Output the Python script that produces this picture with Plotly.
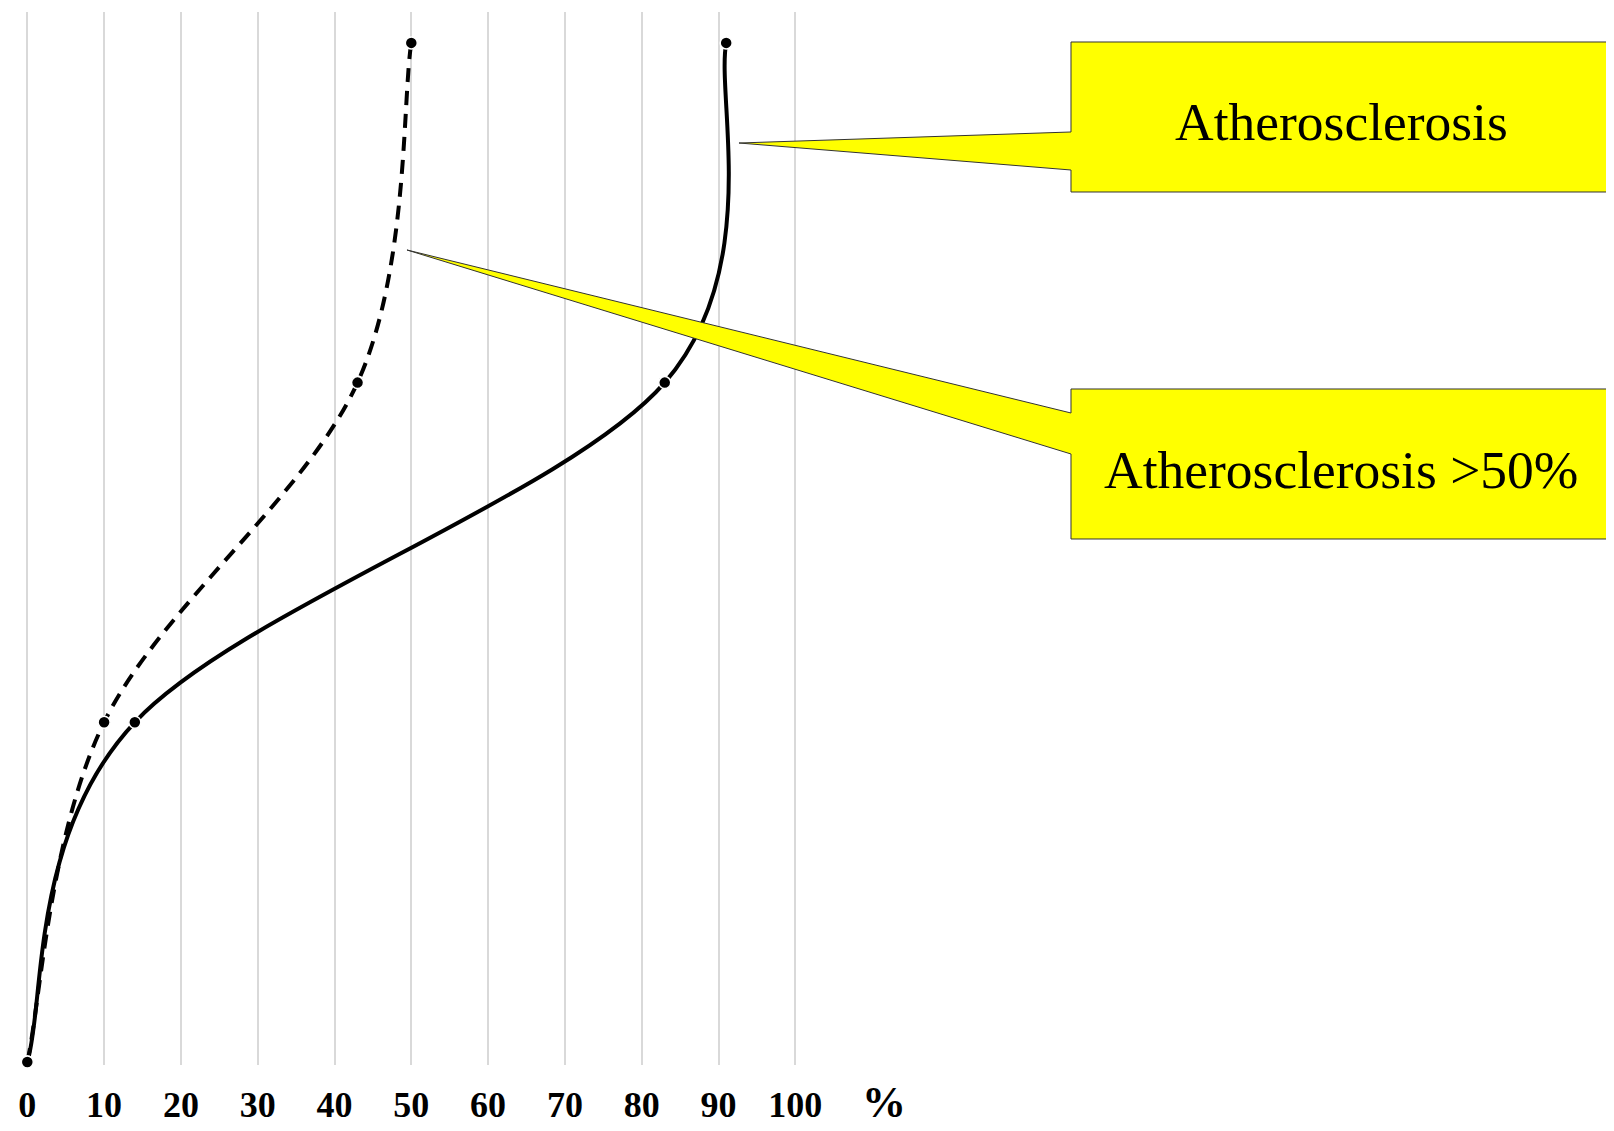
import plotly.graph_objects as go

# ---- data ----
levels = [0, 1, 2, 3]
athero = [0, 14, 83, 91]          # solid line
athero50 = [0, 10, 43, 50]        # dashed line
x_ticks = [0, 10, 20, 30, 40, 50, 60, 70, 80, 90, 100]
x_ticklabels = [str(v) for v in x_ticks]
callout_labels = ["Atherosclerosis", "Atherosclerosis >50%"]

OFF = 8                             # page body margin
W, H = 1614 - OFF, 1131 - OFF
L, R, T, B = 26, 797, 12, 1065      # plot area in page pixels
X0PX, X100PX = 27.3, 795.3          # where 0 and 100 fall on the page
upp = 100 / (X100PX - X0PX)
x_range = [-(X0PX - L) * upp, 100 + (R - X100PX) * upp]


def px(x):
    return (x - L) / (R - L)


def py(y):
    return (B - y) / (B - T)


def smooth_path(xs, ys):
    """Excel-style smoothed line: cubic Bezier through the data points (data coords)."""
    n = len(xs)
    P = list(zip(xs, ys))
    d = f"M {P[0][0]},{P[0][1]}"
    for i in range(n - 1):
        p0 = P[i - 1] if i > 0 else P[i]
        p1, p2 = P[i], P[i + 1]
        p3 = P[i + 2] if i + 2 < n else P[i + 1]
        c1 = (p1[0] + (p2[0] - p0[0]) / 6, p1[1] + (p2[1] - p0[1]) / 6)
        c2 = (p2[0] - (p3[0] - p1[0]) / 6, p2[1] - (p3[1] - p1[1]) / 6)
        d += f" C {c1[0]:.4f},{c1[1]:.4f} {c2[0]:.4f},{c2[1]:.4f} {p2[0]},{p2[1]}"
    return d


fig = go.Figure()

for xs, dash in [(athero50, "14px,9px"), (athero, "solid")]:
    fig.add_shape(type="path", path=smooth_path(xs, levels), xref="x", yref="y",
                  line=dict(color="black", width=4, dash=dash), layer="between")
    fig.add_trace(go.Scatter(
        x=xs, y=levels, mode="markers",
        marker=dict(size=12, color="black", line=dict(color="white", width=1.5)),
        cliponaxis=False, showlegend=False))


def callout(box, base, tip):
    x0, y0, x1, y1 = box
    b0, b1 = base
    tx, ty = tip
    pts = [(x0, y0), (x1, y0), (x1, y1), (x0, y1), (x0, b1), (tx, ty), (x0, b0)]
    d = "M " + " L ".join(f"{px(a):.5f},{py(b):.5f}" for a, b in pts) + " Z"
    return dict(type="path", path=d, xref="paper", yref="paper",
                fillcolor="#ffff00", line=dict(color="#333333", width=1), layer="above")


for shp in [
    callout((1071, 42, 1611, 192), (132, 170), (739, 143)),
    callout((1071, 389, 1611, 539), (413, 454), (407, 250)),
]:
    fig.add_shape(**shp)

annotations = [
    dict(text=callout_labels[0], x=px(1341), y=py(122), xref="paper", yref="paper",
         showarrow=False, xanchor="center", yanchor="middle",
         font=dict(family="Liberation Serif", size=53.5, color="black")),
    dict(text=callout_labels[1], x=px(1341), y=py(470), xref="paper", yref="paper",
         showarrow=False, xanchor="center", yanchor="middle",
         font=dict(family="Liberation Serif", size=53.5, color="black")),
    dict(text="%", x=px(884), y=py(1102), xref="paper", yref="paper",
         showarrow=False, xanchor="center", yanchor="middle",
         font=dict(family="Liberation Serif", size=44, color="black", weight="bold")),
]

fig.update_layout(
    width=W, height=H,
    margin=dict(l=L - OFF, r=W - (R - OFF), t=T - OFF, b=H - (B - OFF), pad=0,
                autoexpand=False),
    paper_bgcolor="white", plot_bgcolor="rgba(0,0,0,0)",
    annotations=annotations,
    xaxis=dict(range=x_range, tickvals=x_ticks, ticktext=x_ticklabels,
               showgrid=True, gridcolor="#d9d9d9", gridwidth=1.5,
               zeroline=False, showline=False, ticks="", automargin=False,
               ticklabelstandoff=15,
               tickfont=dict(family="Liberation Serif", size=36, color="black", weight="bold"),
               fixedrange=True),
    yaxis=dict(range=[-0.009, 3.091], showgrid=False, zeroline=False, automargin=False,
               showticklabels=False, showline=False, ticks="", fixedrange=True),
)

fig.write_html("out.html")
